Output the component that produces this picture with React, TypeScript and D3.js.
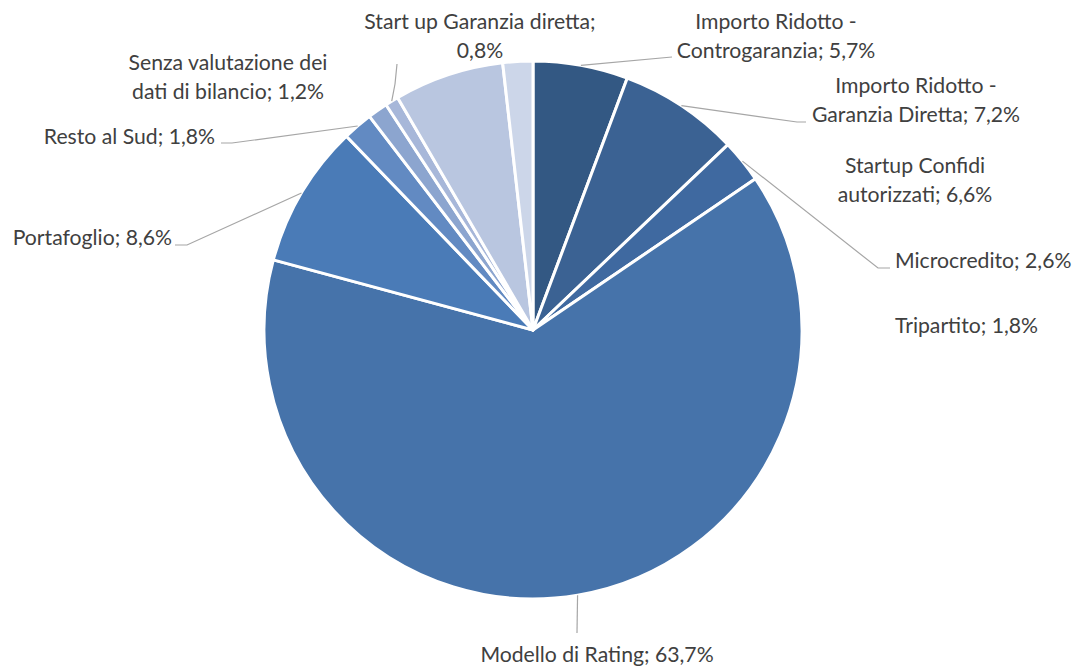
import React from "react";
import * as d3 from "d3";

const categories = [
  "Importo Ridotto - Controgaranzia",
  "Importo Ridotto - Garanzia Diretta",
  "Microcredito",
  "Modello di Rating",
  "Portafoglio",
  "Resto al Sud",
  "Senza valutazione dei dati di bilancio",
  "Start up Garanzia diretta",
  "Startup Confidi autorizzati",
  "Tripartito",
];
const values = [5.7, 7.2, 2.6, 63.7, 8.6, 1.8, 1.2, 0.8, 6.6, 1.8];
const colors = [
  "#335883",
  "#3b6293",
  "#3f69a0",
  "#4673aa",
  "#4a7bb7",
  "#628ac2",
  "#8ca5cf",
  "#a7b7d9",
  "#b9c6e0",
  "#ccd6e9",
];
// label text lines (with value formatted Italian-style)
const labelLines: string[][] = [
  ["Importo Ridotto -", "Controgaranzia; 5,7%"],
  ["Importo Ridotto -", "Garanzia Diretta; 7,2%"],
  ["Microcredito; 2,6%"],
  ["Modello di Rating; 63,7%"],
  ["Portafoglio; 8,6%"],
  ["Resto al Sud; 1,8%"],
  ["Senza valutazione dei", "dati di bilancio; 1,2%"],
  ["Start up Garanzia diretta;", "0,8%"],
  ["Startup Confidi", "autorizzati; 6,6%"],
  ["Tripartito; 1,8%"],
];

// layout: label anchor position, text-anchor, leader path points (elbow, end)
type Layout = {
  x: number;
  y: number;
  anchor: "start" | "middle" | "end";
  leader?: [number, number][];
};
const layouts: Layout[] = [
  { x: 776, y: 29, anchor: "middle", leader: [[672, 57]] },
  { x: 916, y: 93, anchor: "middle", leader: [[797, 122], [806, 122]] },
  { x: 895, y: 268, anchor: "start", leader: [[878, 268], [890, 268]] },
  { x: 597, y: 662, anchor: "middle", leader: [[577, 633]] },
  { x: 172, y: 245, anchor: "end", leader: [[187, 245], [175, 245]] },
  { x: 215, y: 144, anchor: "end", leader: [[232, 143], [221, 143]] },
  { x: 228, y: 70, anchor: "middle" },
  { x: 480, y: 29, anchor: "middle", leader: [[395, 84], [397, 64]] },
  { x: 915, y: 173, anchor: "middle" },
  { x: 895, y: 333, anchor: "start" },
];

const W = 1077;
const H = 667;
const cx = 533;
const cy = 330;
const R = 269;

export default function App() {
  const pie = d3
    .pie<number>()
    .sort(null)
    .value((d) => d)
    .startAngle(0)
    .endAngle(2 * Math.PI);
  const arcs = pie(values);
  const arc = d3.arc<d3.PieArcDatum<number>>().innerRadius(0).outerRadius(R);
  const line = d3.line();
  const font = "Lato, 'Open Sans', sans-serif";
  return (
    <svg
      width={W}
      height={H}
      style={{ position: "absolute", left: 0, top: 0, background: "#fff" }}
    >
      <g transform={`translate(${cx},${cy})`}>
        {arcs.map((a, i) => (
          <path
            key={categories[i]}
            d={arc(a) || ""}
            fill={colors[i]}
            stroke="#fff"
            strokeWidth={3}
            strokeLinejoin="round"
          />
        ))}
      </g>
      {arcs.map((a, i) => {
        const L = layouts[i];
        if (!L.leader) return null;
        const mid = (a.startAngle + a.endAngle) / 2;
        const start: [number, number] = [
          cx + R * Math.sin(mid),
          cy - R * Math.cos(mid),
        ];
        const pts: [number, number][] = [start, ...L.leader];
        return (
          <path
            key={"l" + i}
            d={line(pts) || ""}
            fill="none"
            stroke="#a6a6a6"
            strokeWidth={1.2}
          />
        );
      })}
      {labelLines.map((lines, i) => {
        const L = layouts[i];
        return (
          <text
            key={"t" + i}
            x={L.x}
            y={L.y}
            textAnchor={L.anchor}
            fontFamily={font}
            fontSize={21.2}
            fill="#404040"
          >
            {lines.map((s, j) => (
              <tspan key={j} x={L.x} dy={j === 0 ? 0 : 29}>
                {s}
              </tspan>
            ))}
          </text>
        );
      })}
    </svg>
  );
}
